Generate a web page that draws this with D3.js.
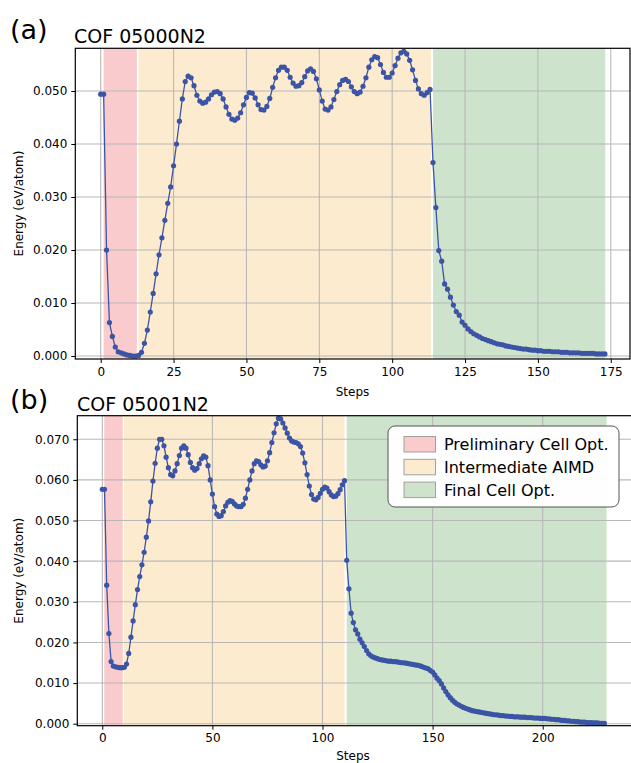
<!DOCTYPE html>
<html><head><meta charset="utf-8">
<script src="https://cdn.jsdelivr.net/npm/d3@7"></script>
<style>body{margin:0;background:#fff} svg{display:block} text{font-family:"DejaVu Sans",sans-serif;fill:#000}</style>
</head><body><svg id="c" width="631" height="763"></svg>
<script>
const phaseNames = ["Preliminary Cell Opt.", "Intermediate AIMD", "Final Cell Opt."];
const phaseColors = ["#f9cbcc", "#fdebcf", "#cde3cc"];

// Panel (a): COF 05000N2, energy per step (steps 0..173)
const titleA = "COF 05000N2";
const energyA = [
0.0494,0.0494,0.0200,0.0063,0.0037,0.0017,0.0008,0.0006,0.0004,0.0002,
0.0001,0.0000,0.0000,0.0001,0.0007,0.0024,0.0049,0.0083,0.0118,0.0155,
0.0191,0.0223,0.0256,0.0288,0.0319,0.0359,0.0400,0.0443,0.0485,0.0518,
0.0528,0.0525,0.0510,0.0492,0.0481,0.0477,0.0479,0.0485,0.0493,0.0498,
0.0499,0.0495,0.0485,0.0470,0.0456,0.0447,0.0445,0.0449,0.0459,0.0474,
0.0488,0.0497,0.0496,0.0487,0.0474,0.0465,0.0464,0.0471,0.0486,0.0507,
0.0525,0.0539,0.0545,0.0545,0.0539,0.0526,0.0515,0.0509,0.0510,0.0516,
0.0527,0.0538,0.0542,0.0537,0.0523,0.0502,0.0481,0.0466,0.0464,0.0470,
0.0484,0.0499,0.0512,0.0520,0.0522,0.0518,0.0508,0.0499,0.0495,0.0498,
0.0509,0.0525,0.0545,0.0559,0.0565,0.0563,0.0550,0.0535,0.0526,0.0526,
0.0534,0.0548,0.0562,0.0572,0.0575,0.0570,0.0558,0.0540,0.0520,0.0504,
0.0495,0.0492,0.0497,0.0503,0.0365,0.0280,0.0199,0.0179,0.0136,0.0126,
0.0111,0.0096,0.0084,0.0077,0.0064,0.0058,0.0051,0.0046,0.0042,0.0039,
0.0036,0.0033,0.0031,0.0029,0.0027,0.0025,0.0023,0.0022,0.0021,0.0019,
0.0018,0.0017,0.0016,0.0015,0.0014,0.0013,0.0013,0.0012,0.0011,0.0011,
0.0010,0.0010,0.0009,0.0009,0.0009,0.0008,0.0008,0.0008,0.0007,0.0007,
0.0007,0.0006,0.0006,0.0006,0.0006,0.0005,0.0005,0.0005,0.0005,0.0005,
0.0004,0.0004,0.0004,0.0004];
const phasesA = [[1, 12.4], [13, 113.3], [114, 173.1]];
const xTicksA = [0, 25, 50, 75, 100, 125, 150, 175];
const yTicksA = [0, 0.01, 0.02, 0.03, 0.04, 0.05];

// Panel (b): COF 05001N2, energy per step (steps 0..228)
const titleB = "COF 05001N2";
const energyB = [
0.0577,0.0577,0.0341,0.0222,0.0153,0.0142,0.0140,0.0139,0.0138,0.0138,
0.0139,0.0147,0.0173,0.0213,0.0253,0.0293,0.0330,0.0362,0.0391,0.0422,
0.0459,0.0499,0.0546,0.0597,0.0641,0.0678,0.0700,0.0700,0.0684,0.0656,
0.0630,0.0613,0.0610,0.0622,0.0640,0.0660,0.0678,0.0684,0.0678,0.0662,
0.0643,0.0630,0.0624,0.0628,0.0640,0.0652,0.0659,0.0656,0.0635,0.0600,
0.0565,0.0534,0.0516,0.0510,0.0512,0.0522,0.0536,0.0545,0.0549,0.0547,
0.0541,0.0536,0.0534,0.0534,0.0540,0.0555,0.0577,0.0600,0.0622,0.0640,
0.0647,0.0645,0.0637,0.0632,0.0634,0.0647,0.0667,0.0692,0.0716,0.0738,
0.0752,0.0750,0.0740,0.0728,0.0715,0.0703,0.0696,0.0693,0.0692,0.0689,
0.0682,0.0666,0.0642,0.0613,0.0585,0.0564,0.0553,0.0551,0.0557,0.0567,
0.0577,0.0582,0.0580,0.0571,0.0563,0.0559,0.0560,0.0566,0.0576,0.0588,
0.0598,0.0402,0.0332,0.0272,0.0249,0.0231,0.0221,0.0208,0.0199,0.0190,
0.0180,0.0172,0.0167,0.0164,0.0162,0.0160,0.0158,0.0157,0.0156,0.0155,
0.0154,0.0154,0.0153,0.0153,0.0152,0.0151,0.0150,0.0150,0.0149,0.0148,
0.0147,0.0146,0.0145,0.0144,0.0143,0.0141,0.0139,0.0137,0.0135,0.0131,
0.0127,0.0120,0.0112,0.0106,0.0098,0.0088,0.0079,0.0071,0.0064,0.0058,
0.0053,0.0049,0.0046,0.0043,0.0040,0.0038,0.0036,0.0034,0.0032,0.0031,
0.0030,0.0029,0.0028,0.0027,0.0026,0.0025,0.0024,0.0023,0.0022,0.0022,
0.0021,0.0020,0.0020,0.0019,0.0019,0.0018,0.0018,0.0017,0.0017,0.0017,
0.0016,0.0016,0.0016,0.0015,0.0015,0.0015,0.0014,0.0014,0.0014,0.0013,
0.0013,0.0013,0.0012,0.0012,0.0011,0.0011,0.0010,0.0010,0.0009,0.0008,
0.0008,0.0007,0.0007,0.0006,0.0006,0.0005,0.0005,0.0004,0.0004,0.0004,
0.0003,0.0003,0.0003,0.0002,0.0002,0.0002,0.0001,0.0001,0.0001];
const phasesB = [[0.9, 9.3], [9.8, 110], [111, 229]];
const xTicksB = [0, 50, 100, 150, 200];
const yTicksB = [0, 0.01, 0.02, 0.03, 0.04, 0.05, 0.06, 0.07];

const svg = d3.select("#c");
const lineColor = "#3b54a5";

function panel(cfg, idx) {
  const {left, right, top, bottom, xDom, yDom, data, phases, xTicks, yTicks} = cfg;
  const x = d3.scaleLinear().domain(xDom).range([left, right]);
  const y = d3.scaleLinear().domain(yDom).range([bottom, top]);
  const g = svg.append("g");
  const cid = "clip" + idx;
  g.append("clipPath").attr("id", cid).append("rect")
    .attr("x", left).attr("y", top).attr("width", right - left).attr("height", bottom - top);
  const p = g.append("g").attr("clip-path", `url(#${cid})`);
  p.selectAll("rect.span").data(phases).join("rect").attr("class", "span")
    .attr("x", d => x(d[0])).attr("width", d => x(d[1]) - x(d[0]))
    .attr("y", top).attr("height", bottom - top)
    .attr("fill", (d, i) => phaseColors[i]);
  p.selectAll("line.gx").data(xTicks).join("line")
    .attr("x1", d => x(d)).attr("x2", d => x(d)).attr("y1", top).attr("y2", bottom)
    .attr("stroke", "#b8b8b8").attr("stroke-width", 1.1);
  p.selectAll("line.gy").data(yTicks).join("line")
    .attr("y1", d => y(d)).attr("y2", d => y(d)).attr("x1", left).attr("x2", right)
    .attr("stroke", "#b8b8b8").attr("stroke-width", 1.1);
  const line = d3.line().x((d, i) => x(i)).y(d => y(d));
  p.append("path").datum(data).attr("d", line).attr("fill", "none")
    .attr("stroke", lineColor).attr("stroke-width", 1.3);
  p.selectAll("circle").data(data).join("circle")
    .attr("cx", (d, i) => x(i)).attr("cy", d => y(d)).attr("r", 2.6).attr("fill", lineColor);
  const ax = g.append("g").attr("transform", `translate(0,${bottom})`)
    .call(d3.axisBottom(x).tickValues(xTicks).tickFormat(d3.format("d")).tickSize(4).tickPadding(4));
  const ay = g.append("g").attr("transform", `translate(${left},0)`)
    .call(d3.axisLeft(y).tickValues(yTicks).tickFormat(d3.format(".3f")).tickSize(4).tickPadding(4));
  [ax, ay].forEach(a => {
    a.select(".domain").remove();
    a.selectAll("text").attr("font-size", 12).attr("font-family", "DejaVu Sans");
    a.selectAll("line").attr("stroke", "#000").attr("stroke-width", 1);
  });
  g.append("rect").attr("x", left).attr("y", top).attr("width", right - left).attr("height", bottom - top)
    .attr("fill", "none").attr("stroke", "#000").attr("stroke-width", 1.2);
  return {x, y, g};
}

const A = panel({left: 75.3, right: 630, top: 48.3, bottom: 359,
  xDom: [-8.72, 181.6], yDom: [-0.000566, 0.05806],
  data: energyA, phases: phasesA, xTicks: xTicksA, yTicks: yTicksA}, 0);
const B = panel({left: 77.3, right: 633, top: 415.7, bottom: 725.7,
  xDom: [-11.35, 241.0], yDom: [-0.00049, 0.0758],
  data: energyB, phases: phasesB, xTicks: xTicksB, yTicks: yTicksB}, 1);

svg.append("text").attr("x", 10).attr("y", 39).attr("font-size", 27).text("(a)");
svg.append("text").attr("x", 74).attr("y", 43).attr("font-size", 19).text(titleA);
svg.append("text").attr("x", 10).attr("y", 409).attr("font-size", 27).text("(b)");
svg.append("text").attr("x", 77).attr("y", 411).attr("font-size", 19).text(titleB);

svg.append("text").attr("x", 352.5).attr("y", 396).attr("text-anchor", "middle").attr("font-size", 12).text("Steps");
svg.append("text").attr("x", 353).attr("y", 759.5).attr("text-anchor", "middle").attr("font-size", 12).text("Steps");
svg.append("text").attr("transform", "translate(23,203.5) rotate(-90)").attr("text-anchor", "middle").attr("font-size", 12).text("Energy (eV/atom)");
svg.append("text").attr("transform", "translate(23,570.7) rotate(-90)").attr("text-anchor", "middle").attr("font-size", 12).text("Energy (eV/atom)");

const lg = svg.append("g").attr("transform", "translate(388,426)");
lg.append("rect").attr("width", 231).attr("height", 81).attr("rx", 7).attr("ry", 7)
  .attr("fill", "#fff").attr("fill-opacity", 0.95).attr("stroke", "#555").attr("stroke-width", 1);
const rows = lg.selectAll("g.row").data(phaseNames).join("g").attr("class", "row")
  .attr("transform", (d, i) => `translate(16,${10.5 + i * 22.8})`);
rows.append("rect").attr("width", 31.5).attr("height", 15.5)
  .attr("fill", (d, i) => phaseColors[i]).attr("stroke", "#a0a0a0").attr("stroke-width", 1);
rows.append("text").attr("x", 40).attr("y", 13.5).attr("font-size", 16).text(d => d);
</script></body></html>
